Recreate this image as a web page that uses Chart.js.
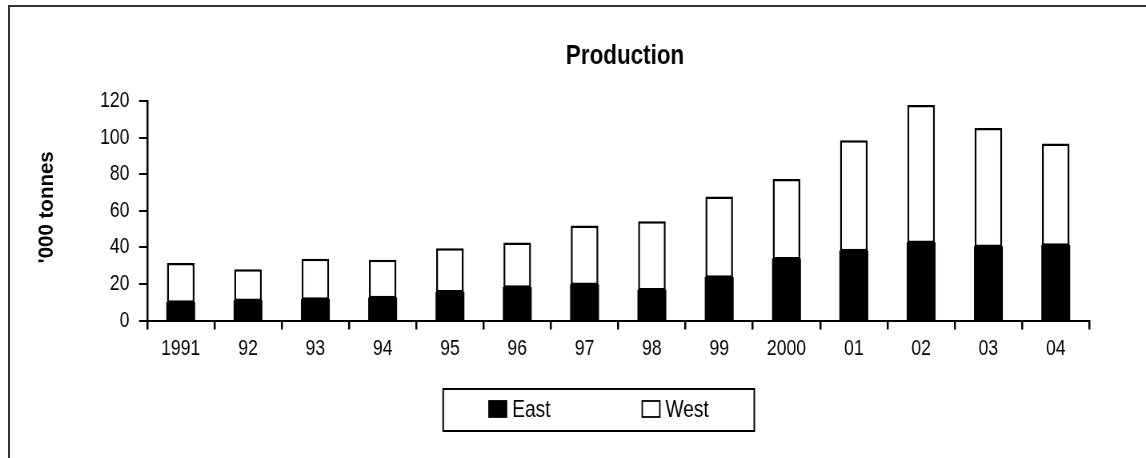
<!DOCTYPE html>
<html>
<head>
<meta charset="utf-8">
<script src="https://cdn.jsdelivr.net/npm/chart.js@4/dist/chart.umd.min.js"></script>
<style>
  html, body { margin: 0; padding: 0; background: #fff; overflow: hidden; width: 1146px; height: 458px; }
  #frame { position: absolute; left: 8px; top: 5px; width: 2000px; height: 2000px; border: 2px solid #333; box-sizing: border-box; }
  #wrap { position: absolute; left: 0; top: 0; width: 1432px; height: 458px; transform: scaleX(0.80028); transform-origin: 0 0; }
</style>
</head>
<body>
<div id="frame"></div>
<div id="wrap"><canvas id="c" width="1432" height="458" style="width:1432px;height:458px"></canvas></div>
<script>
const chartTitle = 'Production';
const yAxisTitle = "'000 tonnes";
const categories = ['1991', '92', '93', '94', '95', '96', '97', '98', '99', '2000', '01', '02', '03', '04'];
const seriesNames = ['East', 'West'];
const east = [9.7, 10.6, 11.3, 12.2, 15.3, 17.9, 19.4, 16.4, 23.4, 33.4, 37.8, 42.4, 40.2, 40.9];
const west = [21.8, 17.4, 22.5, 21.0, 24.2, 24.7, 32.5, 37.8, 44.4, 43.9, 60.8, 75.4, 65.0, 55.9];
const yTicks = [0, 20, 40, 60, 80, 100, 120];

const FONT = '"Liberation Sans", Arial, Helvetica, sans-serif';
const SX = 0.80028;

const decor = {
  id: 'decor',
  afterDraw(chart) {
    const ctx = chart.ctx;
    ctx.save();
    // title
    ctx.fillStyle = '#000';
    ctx.font = 'bold 28px ' + FONT;
    ctx.textAlign = 'center';
    ctx.textBaseline = 'middle';
    ctx.fillText(chartTitle, 781, 56);
    // y axis title (rotated, glyph height not condensed)
    ctx.save();
    ctx.translate(58.75, (chart.chartArea.top + chart.chartArea.bottom) / 2 - 3.5);
    ctx.scale(1 / SX, 1);
    ctx.rotate(-Math.PI / 2);
    ctx.font = 'bold 20.5px ' + FONT;
    ctx.textAlign = 'center';
    ctx.textBaseline = 'middle';
    ctx.fillText(yAxisTitle, 0, 0);
    ctx.restore();
    // legend box
    ctx.strokeStyle = '#000';
    ctx.lineWidth = 2;
    ctx.strokeRect(553.75, 389, 388.75, 42);
    const itemX = [611, 802.5];
    ctx.font = '24px ' + FONT;
    ctx.textAlign = 'left';
    ctx.textBaseline = 'middle';
    chart.data.datasets.forEach((ds, i) => {
      const x = itemX[i];
      ctx.fillStyle = ds.backgroundColor;
      ctx.fillRect(x, 401, 22, 16);
      ctx.lineWidth = 1.8;
      ctx.strokeStyle = '#000';
      ctx.strokeRect(x, 401, 22, 16);
      ctx.fillStyle = '#000';
      ctx.fillText(ds.label, x + 29, 410);
    });
    ctx.restore();
  }
};

new Chart(document.getElementById('c'), {
  type: 'bar',
  data: {
    labels: categories,
    datasets: [
      { label: seriesNames[0], data: east, backgroundColor: '#000000', borderColor: '#000000', borderWidth: 0, inflateAmount: 0.8, barPercentage: 0.41, categoryPercentage: 1 },
      { label: seriesNames[1], data: west, backgroundColor: '#ffffff', borderColor: '#000000', borderWidth: 2.5, borderSkipped: false, inflateAmount: 0, barPercentage: 0.41, categoryPercentage: 1 }
    ]
  },
  options: {
    responsive: false,
    animation: false,
    devicePixelRatio: 1,
    layout: { padding: { left: 10, top: 101, right: 1432 - 1361.25, bottom: 0 } },
    plugins: {
      legend: { display: false },
      title: { display: false },
      tooltip: { enabled: false }
    },
    scales: {
      x: {
        stacked: true,
        grid: { display: true, drawOnChartArea: false, drawTicks: true, tickLength: 9, color: '#000', lineWidth: 2.5, offset: true },
        border: { display: true, color: '#000', width: 2 },
        ticks: { color: '#000', font: { family: FONT, size: 22 }, padding: 6, maxRotation: 0, autoSkip: false },
        afterFit: s => { s.height = 458 - 320.5; }
      },
      y: {
        stacked: true,
        min: yTicks[0],
        max: yTicks[yTicks.length - 1],
        afterBuildTicks: s => { s.ticks = yTicks.map(v => ({ value: v })); },
        grid: { display: true, drawOnChartArea: false, drawTicks: true, tickLength: 10, color: '#000', lineWidth: 2 },
        border: { display: true, color: '#000', width: 2.5 },
        ticks: { color: '#000', font: { family: FONT, size: 22 }, padding: 12 },
        title: { display: false },
        afterFit: s => { s.width = 183.75 - 10; }
      }
    }
  },
  plugins: [decor]
});
</script>
</body>
</html>
